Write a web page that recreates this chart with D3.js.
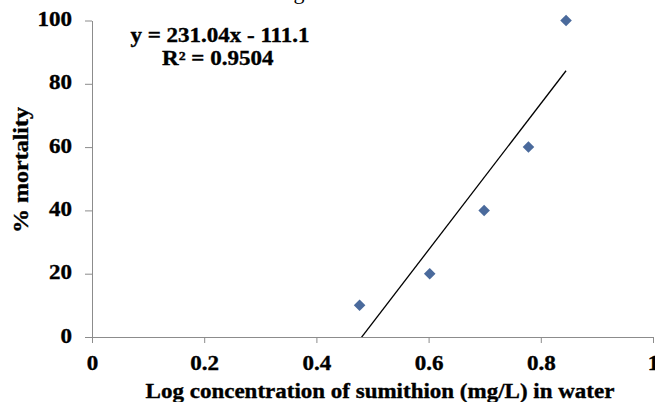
<!DOCTYPE html>
<html>
<head>
<meta charset="utf-8">
<script src="https://cdn.jsdelivr.net/npm/d3@7"></script>
<style>
  body { margin: 0; background: #fff; }
  text { font-family: "Liberation Serif", "Times New Roman", serif; font-weight: bold; fill: #000; stroke: #000; stroke-width: 0.35px; }
</style>
</head>
<body>
<div class="chart"></div>
<script>
var svgWidth = 655;
var svgHeight = 402;

// data
var logConc = [0.477, 0.602, 0.699, 0.778, 0.845];
var mortality = [10, 20, 40, 60, 100];
var slope = 231.04;
var intercept = -111.1;
var xTicks = [0, 0.2, 0.4, 0.6, 0.8, 1];
var yTicks = [0, 20, 40, 60, 80, 100];

var margin = { top: 20.5, right: 2, bottom: 65, left: 92 };
var width = svgWidth - margin.left - margin.right;
var height = svgHeight - margin.top - margin.bottom;
var stretch = 1.15; // the original type is a bit wider than Liberation Serif

var svg = d3.select(".chart")
  .append("svg")
  .attr("width", svgWidth)
  .attr("height", svgHeight);

// title, cut off above the frame
svg.append("text")
  .attr("x", 299)
  .attr("y", -1)
  .attr("text-anchor", "middle")
  .style("font-weight", "normal")
  .style("stroke-width", 0)
  .style("font-size", "22px")
  .text("g");

var chart = svg.append("g")
  .attr("transform", "translate(" + margin.left + "," + margin.top + ")");

var x = d3.scaleLinear().domain([0, 1]).range([0, width]);
var y = d3.scaleLinear().domain([0, 100]).range([height, 0]);

var bottomAxis = d3.axisBottom(x).tickValues(xTicks).tickSize(6).tickSizeOuter(0)
  .tickFormat(function(d) { return d === 0 || d === 1 ? d : d.toFixed(1); });
var leftAxis = d3.axisLeft(y).tickValues(yTicks).tickSize(7).tickSizeOuter(0);

var gx = chart.append("g")
  .attr("transform", "translate(0," + height + ")")
  .call(bottomAxis);
gx.selectAll("text")
  .attr("y", 33).attr("dy", 0)
  .attr("transform", "scale(" + stretch + ",1)")
  .style("font-size", "20px");

var gy = chart.append("g").call(leftAxis);
gy.selectAll("text")
  .attr("x", -20 / stretch).attr("dy", 5)
  .attr("transform", "scale(" + stretch + ",1)")
  .style("font-size", "20px");

chart.selectAll(".domain, .tick line").attr("stroke", "#8c8c8c");

// trend line
chart.append("clipPath").attr("id", "plot")
  .append("rect").attr("width", width).attr("height", height);

var x0 = d3.min(logConc), x1 = d3.max(logConc);
chart.append("line")
  .attr("clip-path", "url(#plot)")
  .attr("x1", x(x0)).attr("y1", y(slope * x0 + intercept))
  .attr("x2", x(x1)).attr("y2", y(slope * x1 + intercept))
  .attr("stroke", "#000")
  .attr("stroke-width", 1.3);

// points
chart.selectAll("path.pt")
  .data(logConc)
  .enter().append("path")
    .attr("class", "pt")
    .attr("d", d3.symbol().type(d3.symbolDiamond2).size(85))
    .attr("transform", function(d, i) {
      return "translate(" + x(d) + "," + y(mortality[i]) + ")";
    })
    .attr("fill", "#4a6a9c");

// equation
var eq = chart.append("g")
  .attr("transform", "translate(128,0) scale(" + stretch + ",1)");
eq.append("text")
  .attr("y", 22)
  .attr("text-anchor", "middle")
  .style("font-size", "20px")
  .text("y = 231.04x - 111.1");
eq.append("text")
  .attr("x", -2)
  .attr("y", 44.5)
  .attr("text-anchor", "middle")
  .style("font-size", "20px")
  .text("R² = 0.9504");

// axis titles
svg.append("text")
  .attr("transform", "translate(28,170) rotate(-90) scale(1.2,1)")
  .attr("text-anchor", "middle")
  .style("font-size", "20px")
  .text("% mortality");

svg.append("text")
  .attr("transform", "translate(380,398) scale(" + stretch + ",1)")
  .attr("text-anchor", "middle")
  .style("font-size", "20px")
  .text("Log concentration of sumithion (mg/L) in water");
</script>
</body>
</html>
